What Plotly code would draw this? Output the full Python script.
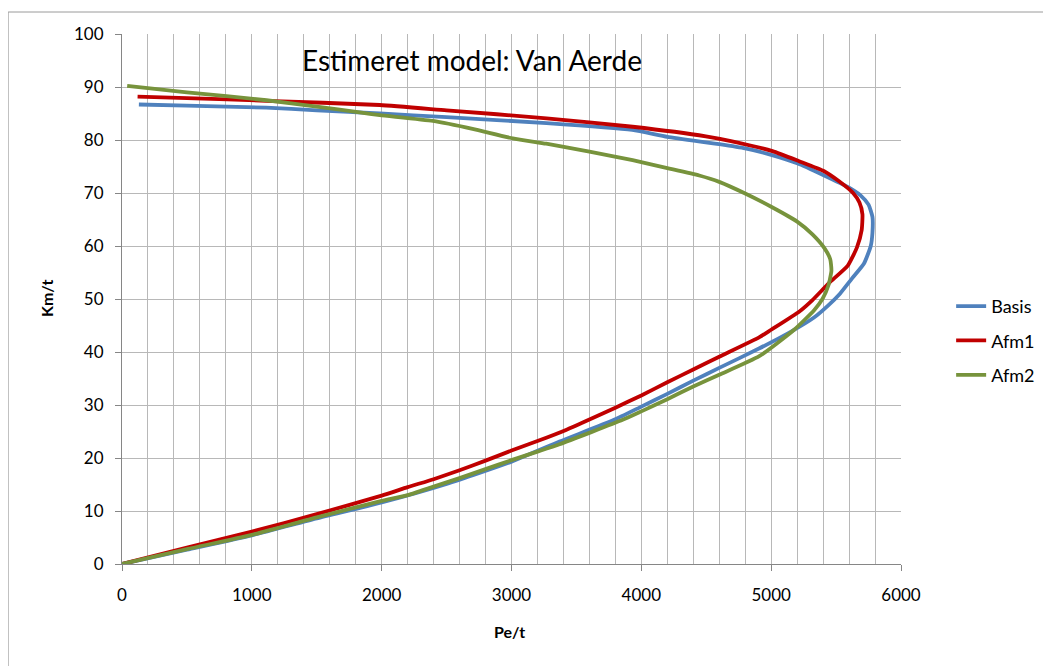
import plotly.graph_objects as go

# Van Aerde: flow (Pe/t) vs speed (Km/t)
basis_x = [0, 500, 1000, 1500, 2000, 2500, 3000, 3370, 3790, 4000, 4200, 4400, 4600, 4910,
           5150, 5330, 5440, 5530, 5620, 5715, 5767, 5780, 5780, 5750, 5690, 5600, 5400, 5200,
           5000, 4800, 4600, 4200, 3930, 3270, 2500, 1985, 1500, 1110, 500, 130]
basis_y = [0, 2.7, 5.4, 8.6, 11.6, 15.1, 19.3, 23.1, 27.2, 29.7, 32.1, 34.6, 37.0, 40.7,
           43.8, 46.5, 48.8, 51.0, 53.8, 56.7, 60.0, 62.5, 65.5, 67.8, 69.5, 71.0, 73.4, 75.6,
           77.2, 78.4, 79.2, 80.6, 81.9, 83.2, 84.3, 85.0, 85.6, 86.1, 86.5, 86.7]

afm1_x = [0, 500, 1000, 1500, 2000, 2200, 2400, 2600, 2800, 3000, 3200, 3420, 3613, 3800,
          4000, 4200, 4400, 4600, 4910, 5000, 5215, 5318, 5445, 5590, 5660, 5697, 5703,
          5680, 5631, 5523, 5408, 5215, 5010, 4690, 4497, 3933, 3270, 2500, 1985, 1110, 500, 120]
afm1_y = [0, 3.1, 6.1, 9.4, 12.9, 14.5, 16.0, 17.7, 19.5, 21.4, 23.2, 25.3, 27.4, 29.5,
          31.8, 34.3, 36.7, 39.1, 42.8, 44.2, 47.6, 49.8, 53.0, 56.3, 59.7, 63.0, 66.0,
          68.2, 70.0, 72.2, 74.1, 76.0, 77.9, 79.8, 80.7, 82.5, 84.1, 85.6, 86.6, 87.4, 87.9, 88.2]

afm2_x = [0, 500, 1000, 1500, 2000, 2200, 2400, 2600, 2800, 3000, 3200, 3370, 3856, 4000,
          4200, 4400, 4600, 4908, 5177, 5331, 5395, 5440, 5464, 5455, 5410, 5318, 5200,
          5000, 4800, 4600, 4446, 4200, 3933, 3600, 3267, 3010, 2700, 2395, 1985, 1831,
          1500, 1113, 500, 40]
afm2_y = [0, 2.8, 5.5, 8.8, 11.9, 13.0, 14.6, 16.2, 17.9, 19.6, 21.2, 22.6, 27.2, 28.8,
          31.1, 33.5, 35.7, 39.2, 44.2, 47.9, 50.0, 52.5, 55.3, 57.5, 59.6, 62.2, 64.6,
          67.4, 69.9, 72.1, 73.3, 74.7, 76.2, 77.8, 79.3, 80.3, 82.1, 83.6, 84.7, 85.2,
          86.3, 87.5, 89.0, 90.2]

series = [
    ("Basis", basis_x, basis_y, "#4F81BD"),
    ("Afm1", afm1_x, afm1_y, "#C00000"),
    ("Afm2", afm2_x, afm2_y, "#77933C"),
]

fig = go.Figure()
for name, xs, ys, col in series:
    fig.add_trace(go.Scatter(x=xs, y=ys, name=name, mode="lines", legendgroup=name,
                             line=dict(color=col, width=3.8, shape="spline", smoothing=0.5)))

font = "Lato, Calibri, 'Open Sans', sans-serif"
grid = "#B8B8B8"
axis_line = "#868686"

# page body has an 8px margin, so the figure is shrunk by that much
fig.update_layout(
    width=1043, height=658,
    margin=dict(l=114, r=149, t=26, b=102),
    paper_bgcolor="white", plot_bgcolor="white",
    font=dict(family=font, size=17, color="black"),
    showlegend=True,
    legend=dict(x=1.063, y=0.421, xanchor="left", yanchor="middle",
                font=dict(size=18), tracegroupgap=8,
                bgcolor="rgba(0,0,0,0)"),
)

fig.update_xaxes(range=[0, 6000], dtick=1000, tick0=0, showgrid=True, gridcolor=grid, gridwidth=1,
                 minor=dict(dtick=200, showgrid=True, gridcolor=grid, gridwidth=1),
                 showline=True, linecolor=axis_line, linewidth=1, zeroline=False,
                 ticks="outside", ticklen=6, tickcolor=axis_line, ticklabelstandoff=10)
fig.update_yaxes(range=[0, 100], dtick=10, tick0=0, showgrid=True, gridcolor=grid, gridwidth=1,
                 showline=True, linecolor=axis_line, linewidth=1, zeroline=False,
                 ticks="outside", ticklen=6, tickcolor=axis_line, ticklabelstandoff=8)

fig.add_annotation(text="Estimeret model: Van Aerde", xref="paper", yref="paper",
                   x=0.229, y=0.951, xanchor="left", yanchor="middle", showarrow=False,
                   font=dict(size=28))
fig.add_annotation(text="<b>Km/t</b>", xref="paper", yref="paper", x=-0.0962, y=0.502,
                   xanchor="center", yanchor="middle",
                   textangle=-90, showarrow=False, font=dict(size=16))
fig.add_annotation(text="<b>Pe/t</b>", xref="paper", yref="paper", x=0.497, y=-0.128,
                   xanchor="center", yanchor="middle",
                   showarrow=False, font=dict(size=16))

# chart-area border (runs off the right and bottom of the window)
fig.add_shape(type="rect", xref="paper", yref="paper", x0=-0.1462, y0=1.0415, x1=1.25, y1=-0.25,
              line=dict(color="#9A9A9A", width=1), layer="below")

fig.write_html("out.html")
